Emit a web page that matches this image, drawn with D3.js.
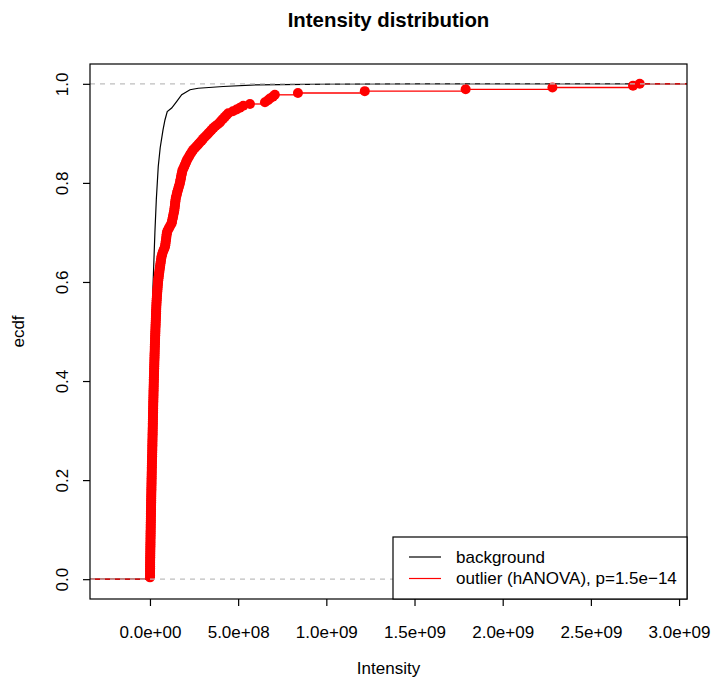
<!DOCTYPE html>
<html>
<head>
<meta charset="utf-8">
<script src="https://cdn.jsdelivr.net/npm/d3@7"></script>
<style>
  body { margin: 0; background: #fff; }
  svg { display: block; }
  text { font-family: "Liberation Sans", Arial, Helvetica, sans-serif; fill: #000; }
</style>
</head>
<body>
<svg id="chart" width="711" height="679"></svg>
<script>
// Outlier intensities (in millions), sorted ascending
const outlierIntensityM = [
  0.2,0.3,0.4,0.5,0.6,0.7,0.8,0.9,1.0,1.1,
  1.3,1.5,1.6,1.8,2.0,2.1,2.3,2.5,2.6,2.8,
  3.0,3.1,3.3,3.5,3.6,3.8,4.0,4.2,4.3,4.5,
  4.7,4.9,5.0,5.2,5.4,5.6,5.8,6.0,6.1,6.3,
  6.5,6.7,6.9,7.1,7.3,7.5,7.7,7.9,8.1,8.3,
  8.5,8.7,8.9,9.1,9.3,9.5,9.7,9.9,10.1,10.3,
  10.6,10.8,11.0,11.3,11.5,11.8,12.1,12.4,12.7,13.0,
  13.2,13.4,13.6,13.8,14.0,14.2,14.5,14.7,14.9,15.1,
  15.3,15.5,15.8,16.0,16.2,16.4,16.6,16.9,17.1,17.3,
  17.5,17.8,18.0,18.2,18.5,18.7,19.0,19.2,19.5,19.7,
  20.0,20.2,20.5,20.7,21.0,21.2,21.5,21.7,22.0,22.3,22.7,
  23.0,23.3,23.6,23.9,24.2,24.5,24.8,25.1,25.4,25.7,
  26.0,26.3,26.6,27.0,27.3,27.6,28.0,28.3,28.7,29.0,
  29.4,29.8,30.1,30.5,30.9,31.3,31.7,32.1,32.5,32.9,
  33.3,33.7,34.1,34.5,34.9,35.3,35.8,36.3,36.8,37.3,38.0,
  38.5,39.2,40.0,40.8,41.6,42.4,43.3,44.2,45.1,46.0,47.0,
  48.3,49.7,51.0,52.4,53.8,55.2,56.6,58.0,59.5,61.0,62.6,64.3,66.0,
  69,72,76,80,85,
  86.5,88,89.5,91,92.5,93.5,95,96,
  100,106,111,117,123,
  125,127,129.5,131.5,133.5,136,138,
  139,140.5,141.5,143,144,145.5,147,
  150,152.5,155,158,161,164,167,170,
  172,174,176,178,180,182.5,185,
  190,194.5,199,203.5,208,
  213,219,225,231,238,245,
  255,264,274,283,293,
  301,311,321,331,341,350,
  360,372,385,397,
  405,415,425,435,444,
  470,491,
  510,529,
  567,
  652,669,680,697,708,839,1218,1790,2282,2739,2777
];

// Background ECDF (intensity in millions, cumulative fraction)
const backgroundIntensityM = [0, 5.7, 11, 17, 28, 36, 47, 58, 74, 85, 98, 123, 151, 180, 227, 274, 415, 605, 1020, 1530];
const backgroundEcdf       = [0, 0.16, 0.36, 0.59, 0.70, 0.766, 0.833, 0.871, 0.907, 0.927, 0.944, 0.951, 0.964, 0.978, 0.988, 0.991, 0.9946, 0.998, 0.9994, 1];

const xTicks = [0, 5e8, 1e9, 1.5e9, 2e9, 2.5e9, 3e9];
const xTickLabels = ["0.0e+00", "5.0e+08", "1.0e+09", "1.5e+09", "2.0e+09", "2.5e+09", "3.0e+09"];
const yTicks = [0, 0.2, 0.4, 0.6, 0.8, 1.0];
const yTickLabels = ["0.0", "0.2", "0.4", "0.6", "0.8", "1.0"];
const referenceLevels = [0, 1];
const legendLabels = ["background", "outlier (hANOVA), p=1.5e\u221214"];
const legendColors = ["#000000", "#ff0000"];

const plot = { left: 90, right: 687, top: 64, bottom: 599 };
const fontSize = 17;

const svg = d3.select("#chart");

const x = d3.scaleLinear().domain([-3.4e8, 3.045e9]).range([plot.left, plot.right]);
const y = d3.scaleLinear().domain([-0.04, 1.04]).range([plot.bottom, plot.top]);

svg.append("defs").append("clipPath").attr("id", "plot-clip")
  .append("rect")
  .attr("x", plot.left).attr("y", plot.top)
  .attr("width", plot.right - plot.left).attr("height", plot.bottom - plot.top);

const layer = svg.append("g").attr("clip-path", "url(#plot-clip)");
const [xLo, xHi] = x.domain();

// Background ECDF curve, extended flat to both sides of the plot
const bgPoints = [[xLo, 0]]
  .concat(backgroundIntensityM.map((v, i) => [v * 1e6, backgroundEcdf[i]]))
  .concat([[xHi, 1]]);
layer.append("path")
  .datum(bgPoints)
  .attr("fill", "none")
  .attr("stroke", "#000")
  .attr("stroke-width", 1.2)
  .attr("d", d3.line().x(d => x(d[0])).y(d => y(d[1])));

// Outlier ECDF: horizontal steps plus a point at each observation
const outVals = outlierIntensityM.map(v => v * 1e6);
const n = outVals.length;
const steps = d3.range(n + 1).map(i => ({
  x0: i === 0 ? xLo : outVals[i - 1],
  x1: i === n ? xHi : outVals[i],
  level: i / n
}));
layer.append("g").selectAll("line")
  .data(steps)
  .join("line")
  .attr("x1", d => x(d.x0)).attr("x2", d => x(d.x1))
  .attr("y1", d => y(d.level)).attr("y2", d => y(d.level))
  .attr("stroke", "#ff0000")
  .attr("stroke-width", 1.3);

layer.append("g").selectAll("circle")
  .data(outVals)
  .join("circle")
  .attr("cx", d => x(d))
  .attr("cy", (d, i) => y((i + 1) / n))
  .attr("r", 5)
  .attr("fill", "#ff0000");

// Dashed reference lines at 0 and 1
layer.append("g").selectAll("line")
  .data(referenceLevels)
  .join("line")
  .attr("x1", plot.left).attr("x2", plot.right)
  .attr("y1", d => y(d)).attr("y2", d => y(d))
  .attr("stroke", "#bebebe")
  .attr("stroke-width", 1.2)
  .attr("stroke-dasharray", "5,5");

// Plot frame
svg.append("rect")
  .attr("x", plot.left).attr("y", plot.top)
  .attr("width", plot.right - plot.left).attr("height", plot.bottom - plot.top)
  .attr("fill", "none").attr("stroke", "#000").attr("stroke-width", 1.2);

// X axis
const xAxis = svg.append("g")
  .attr("transform", `translate(0,${plot.bottom})`)
  .call(d3.axisBottom(x).tickValues(xTicks)
    .tickFormat((d, i) => xTickLabels[i])
    .tickSizeInner(7).tickSizeOuter(0).tickPadding(20));
xAxis.select(".domain").remove();
xAxis.selectAll(".tick line").attr("stroke", "#000").attr("stroke-width", 1.2);
xAxis.selectAll(".tick text")
  .attr("font-size", fontSize)
  .attr("font-family", null);

// Y axis with rotated labels
const yAxis = svg.append("g")
  .attr("transform", `translate(${plot.left},0)`)
  .call(d3.axisLeft(y).tickValues(yTicks)
    .tickFormat((d, i) => yTickLabels[i])
    .tickSizeInner(7).tickSizeOuter(0));
yAxis.select(".domain").remove();
yAxis.selectAll(".tick line").attr("stroke", "#000").attr("stroke-width", 1.2);
yAxis.selectAll(".tick text")
  .attr("x", null).attr("dy", null)
  .attr("font-size", fontSize)
  .attr("font-family", null)
  .attr("text-anchor", "middle")
  .attr("transform", "translate(-22,0) rotate(-90)");

// Titles
svg.append("text")
  .attr("x", (plot.left + plot.right) / 2).attr("y", 27)
  .attr("text-anchor", "middle")
  .attr("font-size", fontSize * 1.2).attr("font-weight", "bold")
  .text("Intensity distribution");

svg.append("text")
  .attr("x", (plot.left + plot.right) / 2).attr("y", 674)
  .attr("text-anchor", "middle")
  .attr("font-size", fontSize)
  .text("Intensity");

svg.append("text")
  .attr("transform", `translate(24,${(plot.top + plot.bottom) / 2}) rotate(-90)`)
  .attr("text-anchor", "middle")
  .attr("font-size", fontSize)
  .text("ecdf");

// Legend
const legend = svg.append("g");
legend.append("rect")
  .attr("x", 393).attr("y", 537)
  .attr("width", plot.right - 393).attr("height", plot.bottom - 537)
  .attr("fill", "#fff").attr("stroke", "#000").attr("stroke-width", 1.2);
const rows = legend.selectAll("g.row")
  .data(legendLabels)
  .join("g")
  .attr("class", "row")
  .attr("transform", (d, i) => `translate(0,${557 + i * 21.5})`);
rows.append("line")
  .attr("x1", 409).attr("x2", 441)
  .attr("stroke", (d, i) => legendColors[i])
  .attr("stroke-width", 1.2);
rows.append("text")
  .attr("x", 456).attr("dy", "0.35em")
  .attr("font-size", fontSize)
  .text(d => d);
</script>
</body>
</html>
